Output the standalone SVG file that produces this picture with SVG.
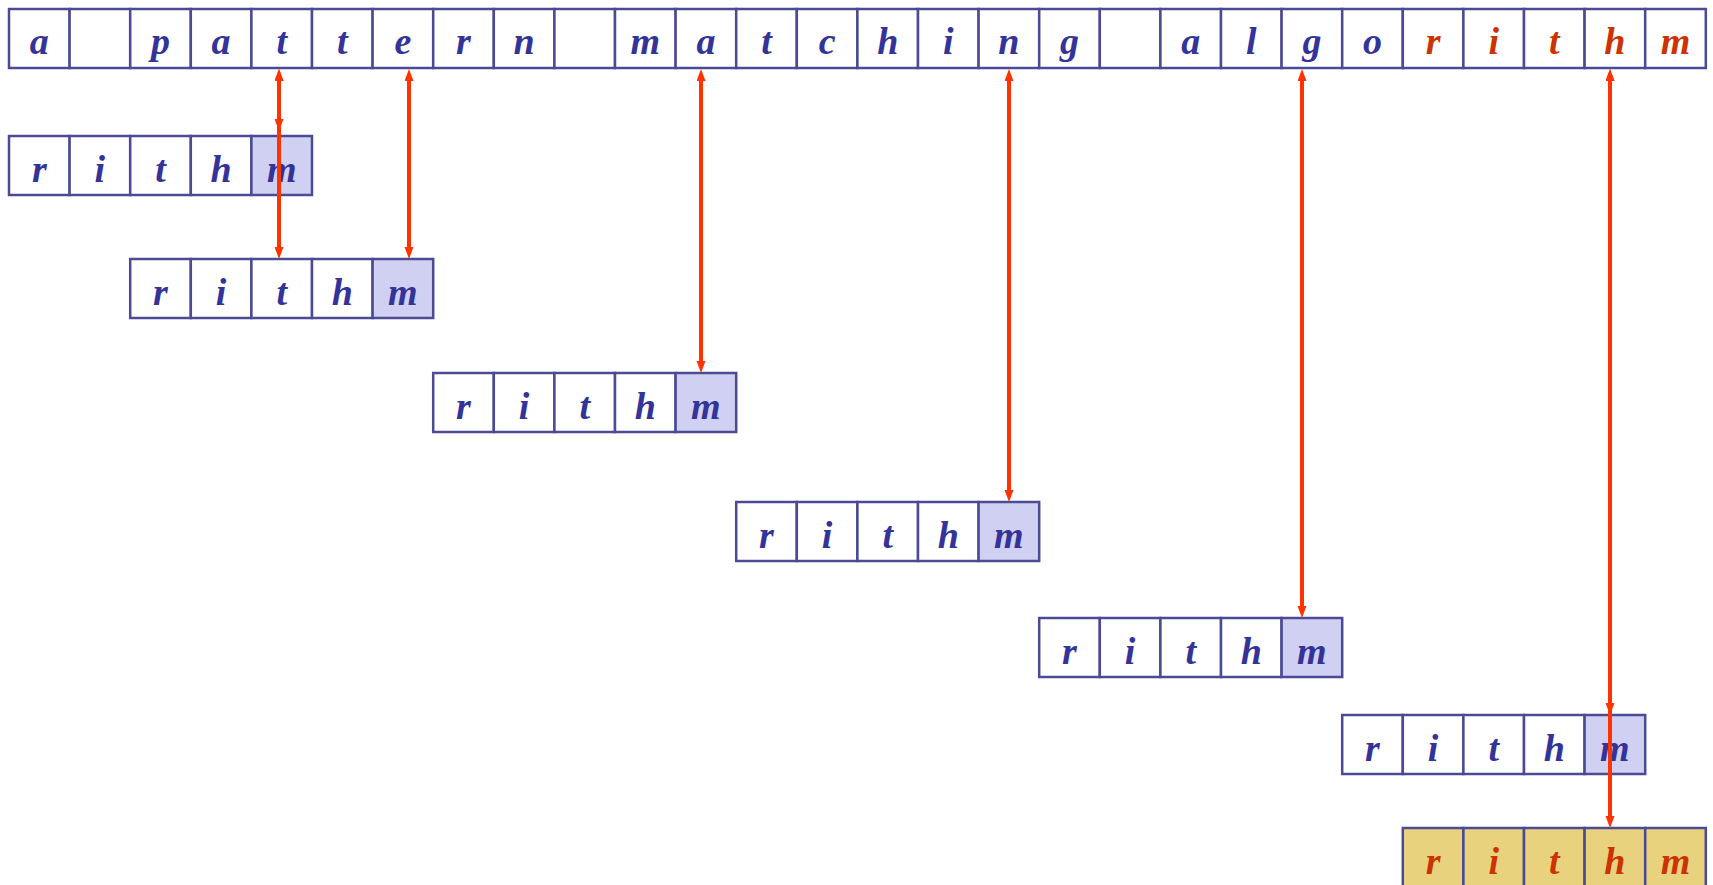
<svg xmlns="http://www.w3.org/2000/svg" width="1713" height="885" viewBox="0 0 1713 885">
<style>
.c{fill:#ffffff;stroke:#4b4b95;stroke-width:2.5}
.k{fill:#d0d0f2;stroke:#4b4b95;stroke-width:2.5}
.y{fill:#e8d27e;stroke:#4b4b95;stroke-width:2.5}
text{font-family:"Liberation Serif","Times New Roman",serif;font-weight:bold;font-style:italic;font-size:38px;text-anchor:middle}
.b{fill:#333399}
.r{fill:#cc3300}
.a{stroke:#ff3300;stroke-width:4;fill:none;marker-start:url(#ah);marker-end:url(#ah)}
</style>
<defs>
<marker id="ah" markerUnits="userSpaceOnUse" markerWidth="13" markerHeight="10" refX="6" refY="4.5" orient="auto-start-reverse" viewBox="0 0 13 10">
<path d="M0,0 L12,4.5 L0,9 Z" fill="#ff3300"/>
</marker>
</defs>
<rect width="1713" height="885" fill="#ffffff"/>
<g id="text-row">
<rect class="c" x="9" y="9" width="60.6" height="59"/><text class="b" x="39.3" y="54">a</text>
<rect class="c" x="69.6" y="9" width="60.6" height="59"/>
<rect class="c" x="130.2" y="9" width="60.6" height="59"/><text class="b" x="160.5" y="54">p</text>
<rect class="c" x="190.8" y="9" width="60.6" height="59"/><text class="b" x="221.1" y="54">a</text>
<rect class="c" x="251.4" y="9" width="60.6" height="59"/><text class="b" x="281.7" y="54">t</text>
<rect class="c" x="312" y="9" width="60.6" height="59"/><text class="b" x="342.3" y="54">t</text>
<rect class="c" x="372.6" y="9" width="60.6" height="59"/><text class="b" x="402.9" y="54">e</text>
<rect class="c" x="433.2" y="9" width="60.6" height="59"/><text class="b" x="463.5" y="54">r</text>
<rect class="c" x="493.8" y="9" width="60.6" height="59"/><text class="b" x="524.1" y="54">n</text>
<rect class="c" x="554.4" y="9" width="60.6" height="59"/>
<rect class="c" x="615" y="9" width="60.6" height="59"/><text class="b" x="645.3" y="54">m</text>
<rect class="c" x="675.6" y="9" width="60.6" height="59"/><text class="b" x="705.9" y="54">a</text>
<rect class="c" x="736.2" y="9" width="60.6" height="59"/><text class="b" x="766.5" y="54">t</text>
<rect class="c" x="796.8" y="9" width="60.6" height="59"/><text class="b" x="827.1" y="54">c</text>
<rect class="c" x="857.4" y="9" width="60.6" height="59"/><text class="b" x="887.7" y="54">h</text>
<rect class="c" x="918" y="9" width="60.6" height="59"/><text class="b" x="948.3" y="54">i</text>
<rect class="c" x="978.6" y="9" width="60.6" height="59"/><text class="b" x="1008.9" y="54">n</text>
<rect class="c" x="1039.2" y="9" width="60.6" height="59"/><text class="b" x="1069.5" y="54">g</text>
<rect class="c" x="1099.8" y="9" width="60.6" height="59"/>
<rect class="c" x="1160.4" y="9" width="60.6" height="59"/><text class="b" x="1190.7" y="54">a</text>
<rect class="c" x="1221" y="9" width="60.6" height="59"/><text class="b" x="1251.3" y="54">l</text>
<rect class="c" x="1281.6" y="9" width="60.6" height="59"/><text class="b" x="1311.9" y="54">g</text>
<rect class="c" x="1342.2" y="9" width="60.6" height="59"/><text class="b" x="1372.5" y="54">o</text>
<rect class="c" x="1402.8" y="9" width="60.6" height="59"/><text class="r" x="1433.1" y="54">r</text>
<rect class="c" x="1463.4" y="9" width="60.6" height="59"/><text class="r" x="1493.7" y="54">i</text>
<rect class="c" x="1524" y="9" width="60.6" height="59"/><text class="r" x="1554.3" y="54">t</text>
<rect class="c" x="1584.6" y="9" width="60.6" height="59"/><text class="r" x="1614.9" y="54">h</text>
<rect class="c" x="1645.2" y="9" width="60.6" height="59"/><text class="r" x="1675.5" y="54">m</text>
</g>
<g id="pattern-1" transform="translate(9,136)">
<rect class="c" x="0" y="0" width="60.6" height="59"/><text class="b" x="30.3" y="46">r</text>
<rect class="c" x="60.6" y="0" width="60.6" height="59"/><text class="b" x="90.9" y="46">i</text>
<rect class="c" x="121.2" y="0" width="60.6" height="59"/><text class="b" x="151.5" y="46">t</text>
<rect class="c" x="181.8" y="0" width="60.6" height="59"/><text class="b" x="212.1" y="46">h</text>
<rect class="k" x="242.4" y="0" width="60.6" height="59"/><text class="b" x="272.7" y="46">m</text>
</g>
<g id="pattern-2" transform="translate(130.2,259)">
<rect class="c" x="0" y="0" width="60.6" height="59"/><text class="b" x="30.3" y="46">r</text>
<rect class="c" x="60.6" y="0" width="60.6" height="59"/><text class="b" x="90.9" y="46">i</text>
<rect class="c" x="121.2" y="0" width="60.6" height="59"/><text class="b" x="151.5" y="46">t</text>
<rect class="c" x="181.8" y="0" width="60.6" height="59"/><text class="b" x="212.1" y="46">h</text>
<rect class="k" x="242.4" y="0" width="60.6" height="59"/><text class="b" x="272.7" y="46">m</text>
</g>
<g id="pattern-3" transform="translate(433.2,373)">
<rect class="c" x="0" y="0" width="60.6" height="59"/><text class="b" x="30.3" y="46">r</text>
<rect class="c" x="60.6" y="0" width="60.6" height="59"/><text class="b" x="90.9" y="46">i</text>
<rect class="c" x="121.2" y="0" width="60.6" height="59"/><text class="b" x="151.5" y="46">t</text>
<rect class="c" x="181.8" y="0" width="60.6" height="59"/><text class="b" x="212.1" y="46">h</text>
<rect class="k" x="242.4" y="0" width="60.6" height="59"/><text class="b" x="272.7" y="46">m</text>
</g>
<g id="pattern-4" transform="translate(736.2,502)">
<rect class="c" x="0" y="0" width="60.6" height="59"/><text class="b" x="30.3" y="46">r</text>
<rect class="c" x="60.6" y="0" width="60.6" height="59"/><text class="b" x="90.9" y="46">i</text>
<rect class="c" x="121.2" y="0" width="60.6" height="59"/><text class="b" x="151.5" y="46">t</text>
<rect class="c" x="181.8" y="0" width="60.6" height="59"/><text class="b" x="212.1" y="46">h</text>
<rect class="k" x="242.4" y="0" width="60.6" height="59"/><text class="b" x="272.7" y="46">m</text>
</g>
<g id="pattern-5" transform="translate(1039.2,618)">
<rect class="c" x="0" y="0" width="60.6" height="59"/><text class="b" x="30.3" y="46">r</text>
<rect class="c" x="60.6" y="0" width="60.6" height="59"/><text class="b" x="90.9" y="46">i</text>
<rect class="c" x="121.2" y="0" width="60.6" height="59"/><text class="b" x="151.5" y="46">t</text>
<rect class="c" x="181.8" y="0" width="60.6" height="59"/><text class="b" x="212.1" y="46">h</text>
<rect class="k" x="242.4" y="0" width="60.6" height="59"/><text class="b" x="272.7" y="46">m</text>
</g>
<g id="pattern-6" transform="translate(1342.2,715)">
<rect class="c" x="0" y="0" width="60.6" height="59"/><text class="b" x="30.3" y="46">r</text>
<rect class="c" x="60.6" y="0" width="60.6" height="59"/><text class="b" x="90.9" y="46">i</text>
<rect class="c" x="121.2" y="0" width="60.6" height="59"/><text class="b" x="151.5" y="46">t</text>
<rect class="c" x="181.8" y="0" width="60.6" height="59"/><text class="b" x="212.1" y="46">h</text>
<rect class="k" x="242.4" y="0" width="60.6" height="59"/><text class="b" x="272.7" y="46">m</text>
</g>
<g id="pattern-7" transform="translate(1402.8,828)">
<rect class="y" x="0" y="0" width="60.6" height="59"/><text class="r" x="30.3" y="46">r</text>
<rect class="y" x="60.6" y="0" width="60.6" height="59"/><text class="r" x="90.9" y="46">i</text>
<rect class="y" x="121.2" y="0" width="60.6" height="59"/><text class="r" x="151.5" y="46">t</text>
<rect class="y" x="181.8" y="0" width="60.6" height="59"/><text class="r" x="212.1" y="46">h</text>
<rect class="y" x="242.4" y="0" width="60.6" height="59"/><text class="r" x="272.7" y="46">m</text>
</g>
<g id="connectors">
<line class="a" x1="279" y1="75" x2="279" y2="125"/>
<line class="a" x1="279" y1="75" x2="279" y2="253"/>
<line class="a" x1="409" y1="75" x2="409" y2="253"/>
<line class="a" x1="701" y1="75" x2="701" y2="367"/>
<line class="a" x1="1009" y1="75" x2="1009" y2="496"/>
<line class="a" x1="1302" y1="75" x2="1302" y2="612"/>
<line class="a" x1="1610" y1="75" x2="1610" y2="709"/>
<line class="a" x1="1610" y1="75" x2="1610" y2="822"/>
</g>
</svg>
